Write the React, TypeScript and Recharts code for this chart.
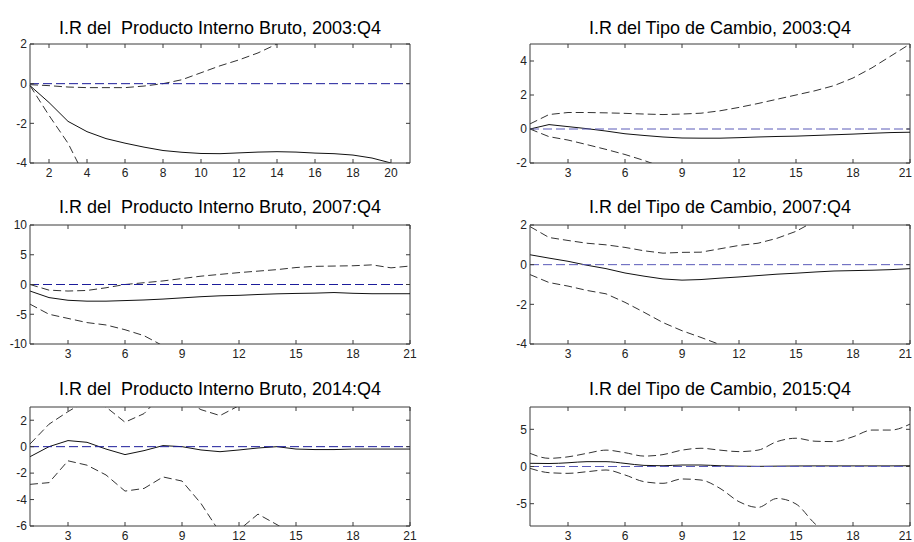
import React from 'react';
import { LineChart, Line, XAxis, YAxis, ReferenceLine } from 'recharts';

// Forecast horizons (quarters)
const horizons20 = [1, 2, 3, 4, 5, 6, 7, 8, 9, 10, 11, 12, 13, 14, 15, 16, 17, 18, 19, 20];
const horizons21 = [1, 2, 3, 4, 5, 6, 7, 8, 9, 10, 11, 12, 13, 14, 15, 16, 17, 18, 19, 20, 21];

// Tick labels
const xTicksEven = [2, 4, 6, 8, 10, 12, 14, 16, 18, 20];
const xTicksThree = [3, 6, 9, 12, 15, 18, 21];

// Producto Interno Bruto, 2003:Q4
const pib2003Irf = [-0.1, -0.95, -1.9, -2.42, -2.77, -3.0, -3.2, -3.37, -3.46, -3.52, -3.53, -3.49, -3.45, -3.43, -3.45, -3.5, -3.53, -3.6, -3.75, -4.0];
const pib2003Upper = [-0.05, -0.1, -0.17, -0.2, -0.2, -0.2, -0.12, 0.0, 0.2, 0.55, 0.9, 1.2, 1.55, 2.0, 2.4, 2.8, 3.2, 3.6, 4.0, 4.4];
const pib2003Lower = [-0.1, -1.6, -3.0, -4.9, -5.7, -6.4, -7.0, -7.5, -7.9, -8.2, -8.5, -8.7, -8.9, -9.1, -9.3, -9.5, -9.7, -9.9, -10.1, -10.3];
const pib2003YTicks = [-4, -2, 0, 2];

// Tipo de Cambio, 2003:Q4
const tc2003Irf = [0.0, 0.26, 0.14, 0.02, -0.12, -0.28, -0.38, -0.47, -0.53, -0.54, -0.54, -0.51, -0.47, -0.44, -0.42, -0.38, -0.34, -0.3, -0.25, -0.21, -0.19];
const tc2003Upper = [0.3, 0.85, 0.97, 0.97, 0.95, 0.92, 0.88, 0.85, 0.88, 0.93, 1.07, 1.27, 1.5, 1.75, 2.0, 2.25, 2.55, 3.0, 3.6, 4.3, 5.0];
const tc2003Lower = [0.0, -0.45, -0.65, -0.92, -1.2, -1.5, -1.85, -2.25, -2.6, -2.95, -3.3, -3.6, -3.9, -4.2, -4.5, -4.8, -5.1, -5.4, -5.7, -6.0, -6.3];
const tc2003YTicks = [-2, 0, 2, 4];

// Producto Interno Bruto, 2007:Q4
const pib2007Irf = [-1.1, -2.2, -2.65, -2.8, -2.8, -2.7, -2.6, -2.45, -2.25, -2.05, -1.9, -1.82, -1.68, -1.57, -1.5, -1.45, -1.35, -1.48, -1.55, -1.55, -1.55];
const pib2007Upper = [0.0, -0.95, -1.1, -1.0, -0.55, 0.0, 0.3, 0.6, 1.0, 1.4, 1.7, 2.0, 2.25, 2.5, 2.85, 3.05, 3.1, 3.15, 3.3, 2.8, 3.1];
const pib2007Lower = [-3.3, -5.0, -5.7, -6.4, -6.8, -7.6, -8.6, -10.3, -11.3, -12.1, -12.8, -13.4, -13.9, -14.3, -14.7, -15.0, -15.3, -15.6, -15.9, -16.2, -16.5];
const pib2007YTicks = [-10, -5, 0, 5, 10];

// Tipo de Cambio, 2007:Q4
const tc2007Irf = [0.5, 0.33, 0.17, -0.03, -0.2, -0.42, -0.58, -0.72, -0.78, -0.75, -0.68, -0.62, -0.55, -0.48, -0.43, -0.37, -0.32, -0.3, -0.28, -0.25, -0.2];
const tc2007Upper = [1.92, 1.37, 1.22, 1.08, 1.0, 0.87, 0.7, 0.58, 0.62, 0.63, 0.8, 0.97, 1.08, 1.33, 1.68, 2.2, 2.6, 3.0, 3.3, 3.6, 3.9];
const tc2007Lower = [-0.5, -0.9, -1.08, -1.3, -1.47, -1.9, -2.4, -2.92, -3.33, -3.67, -4.03, -4.4, -4.7, -5.0, -5.3, -5.5, -5.7, -5.9, -6.1, -6.3, -6.5];
const tc2007YTicks = [-4, -2, 0, 2];

// Producto Interno Bruto, 2014:Q4
const pib2014Irf = [-0.76, 0.0, 0.46, 0.33, -0.18, -0.6, -0.3, 0.08, 0.0, -0.25, -0.38, -0.25, -0.1, 0.0, -0.18, -0.22, -0.22, -0.18, -0.18, -0.18, -0.18];
const pib2014Upper = [0.2, 1.7, 2.65, 3.5, 3.0, 1.85, 2.5, 4.0, 3.6, 2.8, 2.35, 3.1, 3.8, 4.2, 4.5, 4.6, 4.7, 4.8, 4.9, 5.0, 5.0];
const pib2014Lower = [-2.85, -2.72, -1.07, -1.4, -2.14, -3.36, -3.16, -2.29, -2.6, -4.3, -6.5, -6.3, -5.1, -5.9, -6.8, -7.4, -7.8, -8.1, -8.4, -8.6, -8.8];
const pib2014YTicks = [-6, -4, -2, 0, 2];

// Tipo de Cambio, 2015:Q4
const tc2015Irf = [0.43, 0.4, 0.5, 0.65, 0.65, 0.42, 0.15, 0.1, 0.2, 0.2, 0.1, 0.05, 0.02, 0.05, 0.07, 0.08, 0.08, 0.08, 0.08, 0.08, 0.1];
const tc2015Upper = [1.77, 1.1, 1.3, 1.77, 2.2, 1.86, 1.4, 1.6, 2.2, 2.45, 2.2, 2.0, 2.2, 3.35, 3.8, 3.4, 3.35, 4.0, 4.9, 4.9, 5.7];
const tc2015Lower = [-0.25, -0.83, -0.92, -0.7, -0.47, -1.14, -2.04, -2.26, -1.68, -1.82, -2.94, -4.73, -5.5, -4.3, -5.04, -7.7, -9.5, -10.5, -11.2, -11.8, -12.3];
const tc2015YTicks = [-5, 0, 5];

// Layout of a single panel
const PLOT_LEFT = 40;
const PLOT_TOP = 44;
const PLOT_W = 380;
const PLOT_H = 119;
const RIGHT_PAD = 10;
const X_AXIS_H = 22;
const CHART_W = PLOT_LEFT + PLOT_W + RIGHT_PAD;
const CHART_H = PLOT_TOP + PLOT_H + X_AXIS_H;
const TICK_LEN = 4;
const PAGE_W = 914;

const COL_X = [30, 530];
const ROW_TOP = [44, 225, 407];
const TITLE_BASELINE = [34, 213, 395];

const FONT = '"Liberation Sans", Arial, Helvetica, sans-serif';
const AXIS_COLOR = '#3a3a3a';
const LABEL_COLOR = '#222';

type PanelSpec = {
  title: string;
  horizons: number[];
  irf: number[];
  upper: number[];
  lower: number[];
  yDomain: [number, number];
  yTicks: number[];
  xTicks: number[];
  zeroColor: string;
  smooth: boolean;
  col: number;
  row: number;
};

const PANELS: PanelSpec[] = [
  { title: 'I.R del  Producto Interno Bruto, 2003:Q4', horizons: horizons20, irf: pib2003Irf, upper: pib2003Upper, lower: pib2003Lower, yDomain: [-4, 2], yTicks: pib2003YTicks, xTicks: xTicksEven, zeroColor: '#1c1c9a', smooth: false, col: 0, row: 0 },
  { title: 'I.R del Tipo de Cambio, 2003:Q4', horizons: horizons21, irf: tc2003Irf, upper: tc2003Upper, lower: tc2003Lower, yDomain: [-2, 5], yTicks: tc2003YTicks, xTicks: xTicksThree, zeroColor: '#5a5ab8', smooth: false, col: 1, row: 0 },
  { title: 'I.R del  Producto Interno Bruto, 2007:Q4', horizons: horizons21, irf: pib2007Irf, upper: pib2007Upper, lower: pib2007Lower, yDomain: [-10, 10], yTicks: pib2007YTicks, xTicks: xTicksThree, zeroColor: '#1c1c9a', smooth: false, col: 0, row: 1 },
  { title: 'I.R del Tipo de Cambio, 2007:Q4', horizons: horizons21, irf: tc2007Irf, upper: tc2007Upper, lower: tc2007Lower, yDomain: [-4, 2], yTicks: tc2007YTicks, xTicks: xTicksThree, zeroColor: '#5a5ab8', smooth: false, col: 1, row: 1 },
  { title: 'I.R del  Producto Interno Bruto, 2014:Q4', horizons: horizons21, irf: pib2014Irf, upper: pib2014Upper, lower: pib2014Lower, yDomain: [-6, 3], yTicks: pib2014YTicks, xTicks: xTicksThree, zeroColor: '#1c1c9a', smooth: false, col: 0, row: 2 },
  { title: 'I.R del Tipo de Cambio, 2015:Q4', horizons: horizons21, irf: tc2015Irf, upper: tc2015Upper, lower: tc2015Lower, yDomain: [-8, 8], yTicks: tc2015YTicks, xTicks: xTicksThree, zeroColor: '#5a5ab8', smooth: true, col: 1, row: 2 },
];

// Bottom tick label plus inward tick marks on the bottom and top edges.
// Labels that would run past the page edge are right-aligned instead.
function makeXTick(chartLeft: number) {
  return function XTick(props: any) {
    const { x, payload } = props;
    const bottom = PLOT_TOP + PLOT_H;
    const maxRight = PAGE_W - 2 - chartLeft;
    const overflow = x + 7 > maxRight;
    return (
      <g>
        <line x1={x} x2={x} y1={bottom} y2={bottom - TICK_LEN} stroke={AXIS_COLOR} strokeWidth={1} />
        <line x1={x} x2={x} y1={PLOT_TOP} y2={PLOT_TOP + TICK_LEN} stroke={AXIS_COLOR} strokeWidth={1} />
        <text
          x={overflow ? maxRight : x}
          y={bottom + 14}
          textAnchor={overflow ? 'end' : 'middle'}
          fontSize={12}
          fontFamily={FONT}
          fill={LABEL_COLOR}
        >
          {payload.value}
        </text>
      </g>
    );
  };
}

// Left tick label plus inward tick marks on the left and right edges
function YTick(props: any) {
  const { y, payload } = props;
  const right = PLOT_LEFT + PLOT_W;
  return (
    <g>
      <line x1={PLOT_LEFT} x2={PLOT_LEFT + TICK_LEN} y1={y} y2={y} stroke={AXIS_COLOR} strokeWidth={1} />
      <line x1={right - TICK_LEN} x2={right} y1={y} y2={y} stroke={AXIS_COLOR} strokeWidth={1} />
      <text x={PLOT_LEFT - 3} y={y + 4.3} textAnchor="end" fontSize={12} fontFamily={FONT} fill={LABEL_COLOR}>
        {payload.value}
      </text>
    </g>
  );
}

function Panel({ spec }: { spec: PanelSpec }) {
  const data = spec.horizons.map((h, i) => ({
    h,
    irf: spec.irf[i],
    upper: spec.upper[i],
    lower: spec.lower[i],
  }));
  const left = COL_X[spec.col];
  const top = ROW_TOP[spec.row];
  const chartLeft = left - PLOT_LEFT;
  const curve = spec.smooth ? 'monotone' : 'linear';
  return (
    <>
      <div
        style={{
          position: 'absolute',
          left,
          top: TITLE_BASELINE[spec.row] - 15.2,
          width: PLOT_W,
          textAlign: 'center',
          fontFamily: FONT,
          fontSize: 18,
          lineHeight: '18px',
          whiteSpace: 'pre',
          color: '#000',
        }}
      >
        {spec.title}
      </div>
      <div style={{ position: 'absolute', left: chartLeft, top: top - PLOT_TOP }}>
        <LineChart
          width={CHART_W}
          height={CHART_H}
          data={data}
          margin={{ top: PLOT_TOP, right: RIGHT_PAD, bottom: 0, left: 0 }}
        >
          <XAxis
            dataKey="h"
            type="number"
            domain={[1, 21]}
            ticks={spec.xTicks}
            interval={0}
            height={X_AXIS_H}
            tickLine={false}
            axisLine={{ stroke: AXIS_COLOR }}
            tick={makeXTick(chartLeft)}
          />
          <YAxis
            type="number"
            domain={spec.yDomain}
            ticks={spec.yTicks}
            interval={0}
            allowDataOverflow
            width={PLOT_LEFT}
            tickLine={false}
            axisLine={{ stroke: AXIS_COLOR }}
            tick={YTick}
          />
          <ReferenceLine y={spec.yDomain[1]} stroke={AXIS_COLOR} />
          <ReferenceLine x={21} stroke={AXIS_COLOR} />
          <Line dataKey="upper" type={curve} stroke="#333" strokeWidth={1} strokeDasharray="8 4" dot={false} isAnimationActive={false} />
          <Line dataKey="lower" type={curve} stroke="#333" strokeWidth={1} strokeDasharray="8 4" dot={false} isAnimationActive={false} />
          <Line dataKey="irf" type={curve} stroke="#111" strokeWidth={1} dot={false} isAnimationActive={false} />
          <ReferenceLine y={0} stroke={spec.zeroColor} strokeWidth={1} strokeDasharray="9 4" />
        </LineChart>
      </div>
    </>
  );
}

export default function App() {
  return (
    <div
      style={{
        position: 'fixed',
        left: 0,
        top: 0,
        width: PAGE_W,
        height: 542,
        background: '#fff',
        overflow: 'hidden',
      }}
    >
      {PANELS.map((p) => (
        <Panel key={p.title} spec={p} />
      ))}
    </div>
  );
}
